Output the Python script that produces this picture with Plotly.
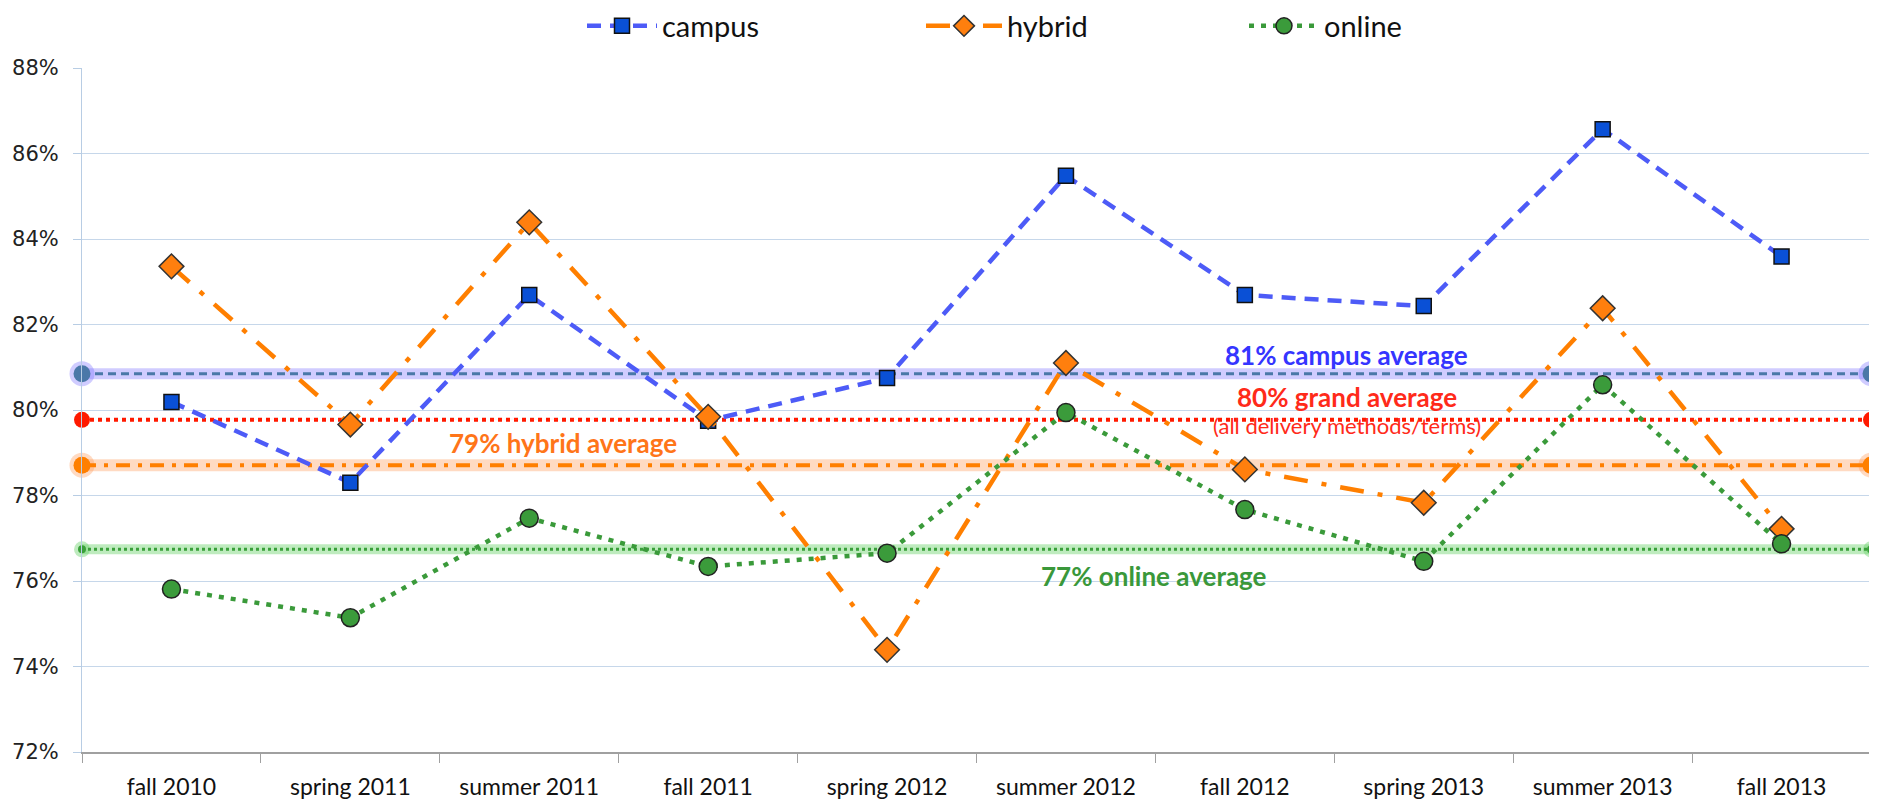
import plotly.graph_objects as go

terms = ["fall 2010", "spring 2011", "summer 2011", "fall 2011", "spring 2012",
         "summer 2012", "fall 2012", "spring 2013", "summer 2013", "fall 2013"]
campus = [80.19, 78.30, 82.69, 79.75, 80.75, 85.48, 82.69, 82.43, 86.57, 83.59]
hybrid = [83.36, 79.66, 84.39, 79.84, 74.39, 81.10, 78.61, 77.83, 82.38, 77.22]
online = [75.81, 75.14, 77.47, 76.34, 76.65, 79.94, 77.67, 76.46, 80.59, 76.87]

campus_avg = 80.85
grand_avg = 79.77
hybrid_avg = 78.71
online_avg = 76.74

y_ticks = [72, 74, 76, 78, 80, 82, 84, 86, 88]

idx = list(range(len(terms)))
edges = [-0.5, len(terms) - 0.5]

W, H = 1869, 792

fig = go.Figure()

def avg_line(val, color, glow, dash, width, msize, glow_w):
    if glow:
        fig.add_trace(go.Scatter(x=edges, y=[val, val], mode="lines+markers",
                                 line=dict(color=glow, width=glow_w),
                                 marker=dict(size=msize + 8, color=glow),
                                 showlegend=False, hoverinfo="skip", cliponaxis=False))
    fig.add_trace(go.Scatter(x=edges, y=[val, val], mode="lines+markers",
                             line=dict(color=color, width=width, dash=dash),
                             marker=dict(size=msize, color=color),
                             showlegend=False, hoverinfo="skip", cliponaxis=False))

avg_line(campus_avg, "#4a78a8", "rgba(120,110,255,0.35)", "8px,5px", 3, 17, 11)
avg_line(grand_avg, "#ff1a00", None, "4px,4px", 4, 16, 0)
avg_line(hybrid_avg, "#ff7f00", "rgba(255,150,80,0.35)", "14px,8px,4px,8px", 4, 17, 12)
avg_line(online_avg, "#3aa03a", "rgba(110,210,110,0.45)", "3px,3px", 3, 8, 10)

fig.add_trace(go.Scatter(x=idx, y=campus, name="campus", mode="lines+markers", legend="legend",
                         line=dict(color="#4d5bf7", width=4.5, dash="14px,9px"),
                         marker=dict(symbol="square", size=15, color="#0a50d6",
                                     line=dict(color="#111", width=1.5)),
                         cliponaxis=False))
fig.add_trace(go.Scatter(x=idx, y=hybrid, name="hybrid",
                         mode="lines+markers", legend="legend2",
                         line=dict(color="#ff7f00", width=4.5, dash="24px,14px,5px,14px"),
                         marker=dict(symbol="diamond", size=19, color="#ff7f0e",
                                     line=dict(color="#333", width=1.5)),
                         cliponaxis=False))
fig.add_trace(go.Scatter(x=idx, y=online, name="online", mode="lines+markers", legend="legend3",
                         line=dict(color="#3a9a3a", width=4.5, dash="5px,7px"),
                         marker=dict(symbol="circle", size=18, color="#3b9b3b",
                                     line=dict(color="#222", width=1.5)),
                         cliponaxis=False))

ann_font = "Lato"
fig.add_annotation(x=6.57, y=81.29, text="<b>81% campus average</b>", showarrow=False,
                   font=dict(family=ann_font, size=26, color="#3535ff"))
fig.add_annotation(x=6.57, y=80.30, text="<b>80% grand average</b>", showarrow=False,
                   font=dict(family=ann_font, size=26, color="#ff2a1a"))
fig.add_annotation(x=6.57, y=79.63, text="(all delivery methods/terms)", showarrow=False,
                   font=dict(family=ann_font, size=22, color="#ff2a1a"))
fig.add_annotation(x=2.19, y=79.23, text="<b>79% hybrid average</b>", showarrow=False,
                   font=dict(family=ann_font, size=26, color="#ff7519"))
fig.add_annotation(x=5.49, y=76.12, text="<b>77% online average</b>", showarrow=False,
                   font=dict(family=ann_font, size=26, color="#3a983a"))

def leg(px, iw):
    return dict(orientation="h", xref="container", yref="container",
                x=(px - 8) / W, xanchor="left", y=1 - 18 / H, yanchor="middle",
                font=dict(family="Lato", size=29, color="#111"),
                itemwidth=iw, bgcolor="rgba(0,0,0,0)")

fig.update_layout(
    width=W, height=H,
    margin=dict(l=74, r=6, t=60, b=48, autoexpand=False),
    paper_bgcolor="white", plot_bgcolor="white",
    legend=leg(582, 70), legend2=leg(921, 76), legend3=leg(1244, 70),
    xaxis=dict(range=edges, tickmode="array", tickvals=idx, ticktext=terms, automargin=False,
               showgrid=False, zeroline=False, showline=True, linecolor="#a0a0a0", linewidth=2,
               ticks="", ticklabelstandoff=13, tickfont=dict(family="Lato", size=23, color="#111"),
               minor=dict(tickmode="array", tickvals=[i - 0.5 for i in range(len(terms) + 1)],
                          ticks="outside", ticklen=9, tickcolor="#a0a0a0", tickwidth=1, showgrid=False)),
    yaxis=dict(range=[72, 88], tickmode="array", tickvals=y_ticks, automargin=False,
               ticktext=[f"{v}%" for v in y_ticks],
               showgrid=True, gridcolor="#c6d7ea", gridwidth=1, zeroline=False,
               showline=True, linecolor="#b8cde4", linewidth=1,
               ticks="outside", ticklen=8, tickcolor="#b8cde4", ticklabelstandoff=10,
               tickfont=dict(family="DejaVu Sans", size=21, color="#222")),
)

fig.write_html("out.html")
